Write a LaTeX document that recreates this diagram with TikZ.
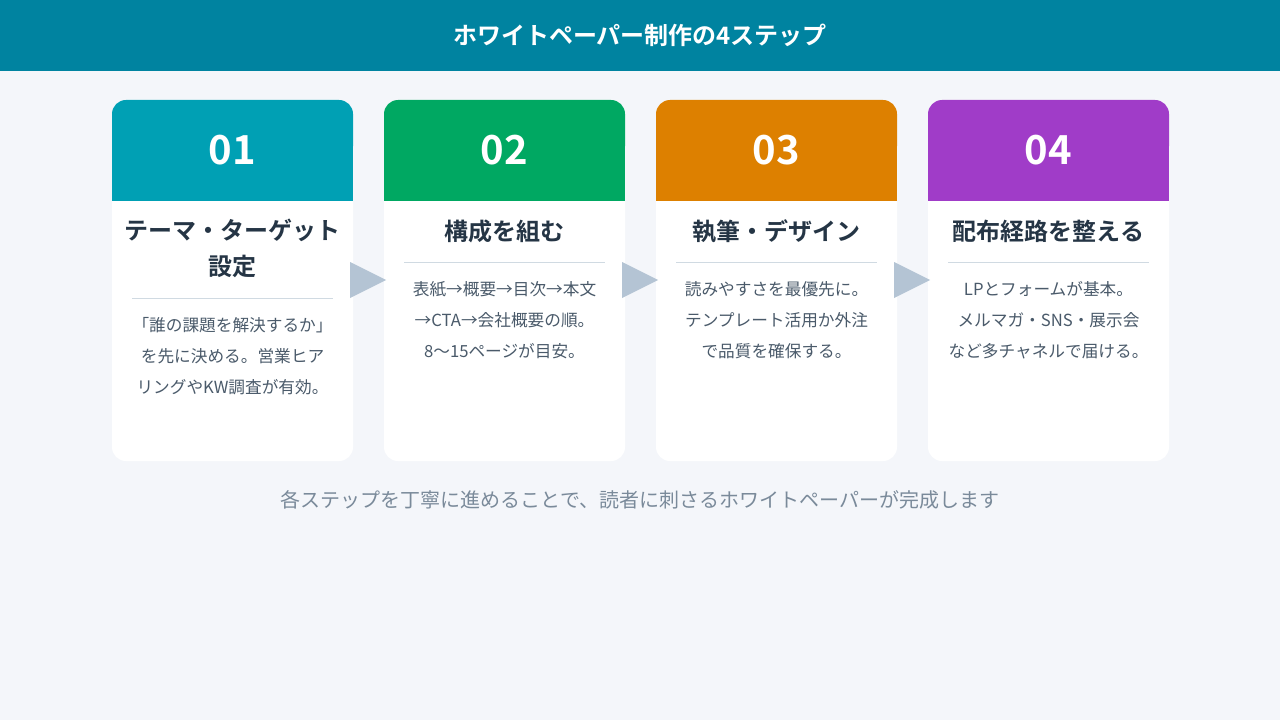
\documentclass[tikz,border=0pt]{standalone}
\usepackage{fontspec}
\setmainfont{Noto Sans CJK JP}
\newfontfamily\jpb{Noto Sans CJK JP Bold}
\definecolor{bg}{HTML}{F4F6FA}
\definecolor{hdr}{HTML}{0083A0}
\definecolor{cA}{HTML}{00A0B4}
\definecolor{cB}{HTML}{00A862}
\definecolor{cC}{HTML}{DD8000}
\definecolor{cD}{HTML}{A03CC8}
\definecolor{ttl}{HTML}{253545}
\definecolor{bdy}{HTML}{4A5A6A}
\definecolor{foot}{HTML}{7A8A9A}
\definecolor{arr}{HTML}{B4C4D4}
\definecolor{div}{HTML}{D0DAE2}
\begin{document}
\begin{tikzpicture}[x=0.75pt,y=-0.75pt,
  num/.style={text=white,font=\jpb\fontsize{30}{32}\selectfont},
  ttlstyle/.style={text=ttl,font=\jpb\fontsize{18}{27}\selectfont,align=center},
  bodystyle/.style={text=bdy,font=\fontsize{12.5}{23}\selectfont,align=center},
  arrstyle/.style={fill=arr}]
\fill[bg] (0,0) rectangle (1280,720);
\useasboundingbox (0,0) rectangle (1280,720);
\fill[hdr] (0,0) rectangle (1280,71);
\node[text=white,font=\jpb\fontsize{18}{20}\selectfont] (title) at (640,35) {ホワイトペーパー制作の4ステップ};
\foreach \i/\x/\c/\n in {1/112/cA/01,2/384/cB/02,3/656/cC/03,4/928/cD/04}{
  \fill[white,rounded corners=10.5pt] (\x,100) rectangle (\x+241,461);
  \fill[\c,rounded corners=10.5pt] (\x,100) rectangle (\x+241,160);
  \fill[\c] (\x,140) rectangle (\x+241,201);
  \node[num] (n\i) at (\x+120.5,150) {\n};
}
\node[ttlstyle] (t1) at (232.5,248) {テーマ・ターゲット\\設定};
\node[ttlstyle] (t2) at (504.5,231) {構成を組む};
\node[ttlstyle] (t3) at (776.5,231) {執筆・デザイン};
\node[ttlstyle] (t4) at (1048.5,231) {配布経路を整える};
\draw[div] (132,298) -- (333,298);
\draw[div] (404,262) -- (605,262);
\draw[div] (676,262) -- (877,262);
\draw[div] (948,262) -- (1149,262);
\node[bodystyle,anchor=north] (b1) at (232.5,313) {「誰の課題を解決するか」\\を先に決める。営業ヒア\\リングやKW調査が有効。};
\node[bodystyle,anchor=north] (b2) at (504.5,277) {表紙→概要→目次→本文\\→CTA→会社概要の順。\\8〜15ページが目安。};
\node[bodystyle,anchor=north] (b3) at (776.5,277) {読みやすさを最優先に。\\テンプレート活用か外注\\で品質を確保する。};
\node[bodystyle,anchor=north] (b4) at (1048.5,277) {LPとフォームが基本。\\メルマガ・SNS・展示会\\など多チャネルで届ける。};
\foreach \x in {350,622,894}{
  \fill[arrstyle] (\x,262) -- (\x+36,280) -- (\x,298) -- cycle;
}
\node[text=foot,font=\fontsize{15}{18}\selectfont] (f) at (640,500) {各ステップを丁寧に進めることで、読者に刺さるホワイトペーパーが完成します};
\end{tikzpicture}
\end{document}
